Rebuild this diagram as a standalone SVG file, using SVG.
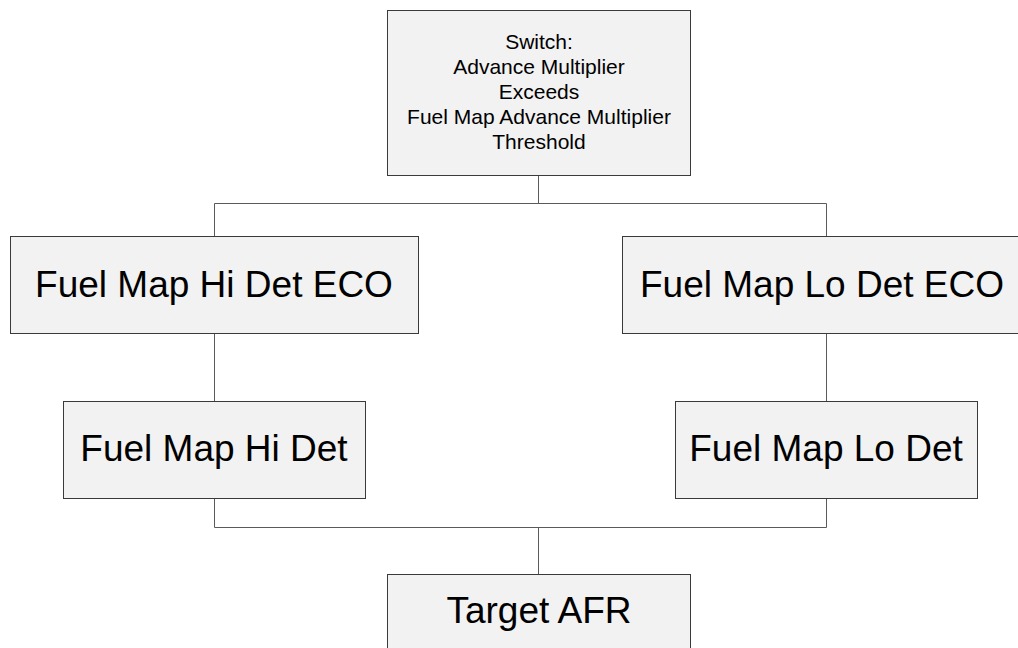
<svg xmlns="http://www.w3.org/2000/svg" width="1018" height="648" viewBox="0 0 1018 648">
<style>
.box{fill:#f2f2f2;stroke:#3a3a3a;stroke-width:1}
.con{fill:none;stroke:#5a5a5a;stroke-width:1}
.big{font-family:"Liberation Sans",Arial,sans-serif;font-size:37px;fill:#000;text-anchor:middle}
.small{font-family:"Liberation Sans",Arial,sans-serif;font-size:21px;fill:#000;text-anchor:middle}
</style>
<rect width="1018" height="648" fill="#ffffff"/>
<g id="connectors">
<path class="con" d="M538.5 175.5 V203.5 M214.5 236.5 V203.5 H826.5 V236.5"/>
<path class="con" d="M214.5 333.5 V401.5 M826.5 333.5 V401.5"/>
<path class="con" d="M214.5 498.5 V527.5 H826.5 V498.5 M538.5 527.5 V574.5"/>
</g>
<g id="switch">
<rect class="box" x="387.5" y="10.5" width="303" height="165"/>
<text class="small" x="539" y="49">Switch:</text>
<text class="small" x="539" y="74">Advance Multiplier</text>
<text class="small" x="539" y="99">Exceeds</text>
<text class="small" x="539" y="124">Fuel Map Advance Multiplier</text>
<text class="small" x="539" y="149">Threshold</text>
</g>
<g id="hi-eco">
<rect class="box" x="10.5" y="236.5" width="408" height="97"/>
<text class="big" x="214" y="297">Fuel Map Hi Det ECO</text>
</g>
<g id="lo-eco">
<rect class="box" x="622.5" y="236.5" width="408" height="97"/>
<text class="big" x="822" y="297">Fuel Map Lo Det ECO</text>
</g>
<g id="hi-det">
<rect class="box" x="63.5" y="401.5" width="302" height="97"/>
<text class="big" x="214" y="461">Fuel Map Hi Det</text>
</g>
<g id="lo-det">
<rect class="box" x="675.5" y="401.5" width="302" height="97"/>
<text class="big" x="826" y="461">Fuel Map Lo Det</text>
</g>
<g id="target">
<rect class="box" x="387.5" y="574.5" width="303" height="97"/>
<text class="big" x="539" y="623">Target AFR</text>
</g>
</svg>
